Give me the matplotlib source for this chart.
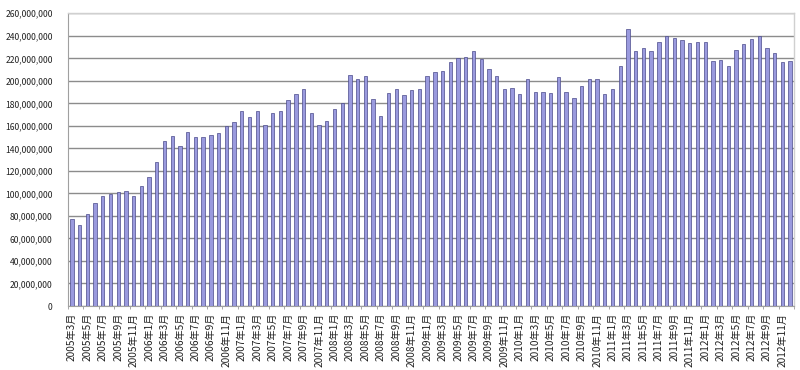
import matplotlib
matplotlib.use('Agg')
import matplotlib.pyplot as plt
from matplotlib.ticker import FuncFormatter, MultipleLocator, FixedLocator

plt.rcParams['font.family'] = ['Noto Sans CJK JP', 'DejaVu Sans']

# monthly values, 2005/3 - 2012/12 (millions)
start_year = 2005
start_month = 3
values_m = [
    77.2, 72, 82, 91.4, 97.6, 99.7, 100.9, 102, 97.3, 106.8,
    114.2, 127.8, 146.7, 151.2, 141.7, 154.7, 150, 150, 152, 154.1, 159.8, 163,
    173.4, 168.3, 173.1, 161, 171, 173, 182.8, 187.9, 192.6, 171.3, 160.4, 164.5,
    174.6, 179.9, 205.6, 201.5, 204.7, 183.7, 169.2, 189.6, 192.6, 187.3, 192, 193.2,
    204.7, 207.7, 208.9, 216.6, 220.7, 221.6, 226.9, 219.5, 210.4, 204.4, 193.2, 193.8,
    187.9, 201.2, 190.2, 190.2, 189.6, 203, 190.2, 184.9, 195.3, 201.2, 202, 188.2,
    193.2, 213.3, 246.4, 226.3, 229.6, 226.9, 234.9, 239.6, 238.2, 236.7, 234, 234.9,
    234.3, 218, 218.9, 213.6, 227.8, 232.5, 237, 240.2, 229.3, 225.1, 216.9, 218,
]
values = [v * 1e6 for v in values_m]

labels = []
y, m = start_year, start_month
for _ in values:
    labels.append(f'{y}年{m}月')
    m += 1
    if m > 12:
        m = 1
        y += 1

fig = plt.figure(figsize=(8, 3.7), dpi=100)
ax = fig.add_axes([68 / 800, 1 - 306 / 370, (794 - 68) / 800, (306 - 13.3) / 370])

x = list(range(len(values)))
ax.bar(x, values, width=0.43, color='#9a9ade', edgecolor='#4a4a8a', linewidth=0.5, zorder=3)

ax.set_xlim(-0.5, len(values) - 0.5)
ax.set_ylim(0, 260e6)
ax.yaxis.set_major_locator(MultipleLocator(20e6))
ax.yaxis.set_major_formatter(FuncFormatter(lambda v, p: f'{int(v):,}'))
ax.grid(axis='y', color='#8c8c8c', linewidth=1.0, zorder=0)

ax.set_xticks(x[::2])
ax.set_xticklabels(labels[::2], rotation=90, fontsize=7.3, color='#222222')
ax.xaxis.set_minor_locator(FixedLocator([i - 0.5 for i in range(0, len(values) + 1, 2)]))
ax.tick_params(axis='x', which='major', length=0, pad=5)
ax.tick_params(axis='x', which='minor', length=2.5, color='#999999')
ax.tick_params(axis='y', length=0, labelsize=6.2, pad=11, labelcolor='#222222')

for side in ['top', 'right']:
    ax.spines[side].set_color('#d0d0d0')
    ax.spines[side].set_linewidth(1)
ax.spines['left'].set_color('#a0a0a0')
ax.spines['bottom'].set_color('#a0a0a0')

fig.savefig('out.png', dpi=100)
plt.close()
